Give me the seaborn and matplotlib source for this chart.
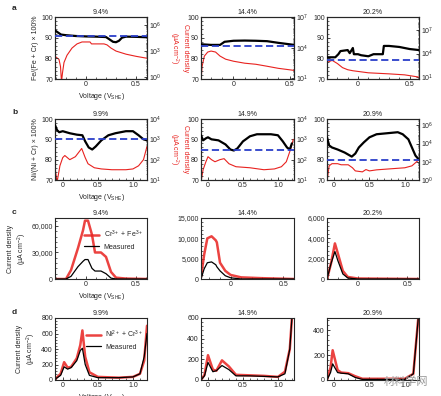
import numpy as np
import pandas as pd
import seaborn as sns
import matplotlib.pyplot as plt
from matplotlib.ticker import AutoMinorLocator, FixedLocator, LogLocator, FuncFormatter

# ---- data ----
titles_a = ['9.4%', '14.4%', '20.2%']
titles_b = ['9.9%', '14.9%', '20.9%']

# row a: Fe/(Fe+Cr) composition (black), dashed bulk level (blue), current density (red, log)
v_a1 = [-0.31, -0.28, -0.25, -0.2, -0.1, 0.0, 0.1, 0.2, 0.24, 0.27, 0.3, 0.33, 0.36, 0.4, 0.5, 0.61]
fe_a1 = [93.5, 92.5, 91.5, 91.2, 90.8, 90.6, 90.5, 90.3, 89.0, 88.0, 87.8, 88.5, 90.0, 90.5, 90.4, 90.2]
vr_a1 = [-0.31, -0.27, -0.255, -0.245, -0.235, -0.22, -0.19, -0.14, -0.09, -0.04, 0.04, 0.055, 0.10,
         0.18, 0.21, 0.25, 0.30, 0.40, 0.50, 0.61]
j_a1 = [2.5e2, 1.1e2, 1.7e1, 0.3, 3.2, 4.9e1, 3.3e2, 2.2e3, 6.6e3, 1.1e4, 1.1e4, 6.6e3, 6.6e3,
        6.6e3, 5.1e3, 2.2e3, 1.0e3, 4.4e2, 2.5e2, 1.5e2]

v_a2 = [-0.29, -0.2, -0.12, -0.08, 0.0, 0.1, 0.2, 0.3, 0.4, 0.5, 0.54]
fe_a2 = [86.8, 86.5, 86.5, 88.0, 88.5, 88.6, 88.5, 88.3, 87.5, 86.8, 86.5]
vr_a2 = [-0.29, -0.28, -0.26, -0.23, -0.2, -0.16, -0.12, -0.07, 0.0, 0.1, 0.2, 0.3, 0.4, 0.54]
j_a2 = [6, 1.6e2, 1.6e3, 4e3, 5e3, 4e3, 1.6e3, 7.9e2, 5e2, 3.2e2, 2.5e2, 1.6e2, 1e2, 6.3e1]

v_a3 = [-0.3, -0.22, -0.19, -0.17, -0.1, -0.08, -0.05, -0.04, 0.0, 0.03, 0.1, 0.15, 0.2, 0.24,
        0.25, 0.3, 0.4, 0.5, 0.59]
fe_a3 = [80.5, 80.5, 82.0, 83.5, 84.0, 82.5, 85.0, 82.0, 82.0, 81.5, 81.0, 82.0, 82.0, 82.0,
         86.0, 86.0, 85.5, 84.5, 84.0]
vr_a3 = [-0.3, -0.25, -0.2, -0.15, -0.1, -0.05, 0.1, 0.3, 0.45, 0.59]
j_a3 = [7.6e2, 1.4e3, 5.6e2, 1.7e2, 9.3e1, 6.9e1, 3.8e1, 2.8e1, 2.1e1, 1.1e1]

# row b: Ni/(Ni+Cr)
v_b1 = [-0.11, -0.08, -0.05, 0.0, 0.1, 0.2, 0.28, 0.32, 0.37, 0.42, 0.47, 0.55, 0.65, 0.75, 0.9,
        1.0, 1.08, 1.15, 1.2]
ni_b1 = [97, 94.5, 93.5, 94, 93, 92.3, 92, 89, 86, 85, 86.5, 89.5, 92, 93, 94, 94, 92, 90, 89.5]
vr_b1 = [-0.11, -0.08, -0.04, 0.0, 0.03, 0.1, 0.18, 0.27, 0.32, 0.36, 0.45, 0.55, 0.7, 0.9, 1.0,
         1.08, 1.15, 1.2]
j_b1 = [40, 8, 50, 126, 160, 100, 140, 355, 126, 63, 40, 35, 32, 32, 35, 50, 100, 450]

v_b2 = [-0.1, -0.07, -0.03, 0.0, 0.05, 0.15, 0.25, 0.32, 0.37, 0.42, 0.5, 0.6, 0.7, 0.9, 1.0,
        1.07, 1.13, 1.17, 1.2]
ni_b2 = [92, 89.5, 90.5, 91, 90, 89.5, 87.5, 85, 84.5, 85.5, 89, 91.5, 92.5, 92.5, 92, 89, 86, 85, 88]
vr_b2 = [-0.1, -0.07, -0.03, 0.0, 0.05, 0.1, 0.17, 0.23, 0.3, 0.4, 0.6, 0.8, 0.95, 1.05, 1.12,
         1.18, 1.22]
j_b2 = [8, 32, 79, 140, 100, 79, 100, 112, 63, 45, 40, 32, 35, 45, 79, 316, 1000]

v_b3 = [-0.1, -0.07, -0.03, 0.05, 0.15, 0.25, 0.3, 0.35, 0.42, 0.5, 0.6, 0.75, 0.9, 0.97, 1.05,
        1.1, 1.15, 1.2]
ni_b3 = [91, 87, 86, 85, 83.5, 81.5, 83, 86, 88.5, 91, 92.5, 93, 93.5, 92.5, 90, 86, 82, 80]
vr_b3 = [-0.1, -0.07, -0.03, 0.05, 0.1, 0.2, 0.26, 0.3, 0.4, 0.45, 0.5, 0.6, 0.8, 1.0, 1.1, 1.2]
j_b3 = [0.6, 36, 62, 62, 47, 47, 22, 10, 7.8, 14, 10, 13, 17, 22, 36, 170]

bulk_a = [90.8, 85.8, 79.0]
bulk_b = [90.0, 85.0, 80.0]

# row c: current density, calculated (red) vs measured (black)
vc1 = [-0.31, -0.2, -0.15, -0.08, -0.03, -0.01, 0.02, 0.06, 0.09, 0.15, 0.2, 0.25, 0.3, 0.4, 0.61]
calc_c1 = [0, 0, 10000, 35000, 55000, 66000, 66000, 50000, 30000, 30000, 25000, 8000, 1500, 500, 0]
meas_c1 = [0, 0, 3000, 14000, 20000, 22000, 22000, 12000, 9000, 9000, 6000, 1000, 0, 0, 0]

vc2 = [-0.28, -0.25, -0.22, -0.18, -0.14, -0.13, -0.1, -0.05, 0.0, 0.1, 0.3, 0.6]
calc_c2 = [500, 6000, 10000, 10500, 9500, 9000, 4000, 2000, 1000, 400, 200, 0]
meas_c2 = [0, 2500, 4000, 4200, 3500, 3000, 2000, 800, 300, 0, 0, 0]

vc3 = [-0.31, -0.27, -0.23, -0.2, -0.15, -0.1, 0.0, 0.62]
calc_c3 = [0, 1500, 3500, 2500, 800, 200, 50, 0]
meas_c3 = [0, 1500, 2700, 1800, 500, 100, 0, 0]

# row d
vd1 = [-0.11, -0.03, 0.02, 0.07, 0.12, 0.2, 0.25, 0.28, 0.32, 0.38, 0.5, 0.8, 1.0, 1.1, 1.16, 1.2]
calc_d1 = [10, 80, 230, 160, 170, 280, 450, 640, 300, 100, 40, 30, 40, 80, 250, 700]
meas_d1 = [10, 60, 170, 140, 160, 250, 380, 410, 200, 60, 30, 30, 40, 80, 300, 600]

vd2 = [-0.1, -0.05, 0.0, 0.07, 0.12, 0.2, 0.3, 0.4, 0.6, 0.8, 1.0, 1.1, 1.17, 1.2]
calc_d2 = [0, 50, 240, 100, 90, 190, 130, 50, 45, 40, 30, 80, 300, 600]
meas_d2 = [0, 40, 170, 80, 90, 140, 100, 40, 40, 35, 30, 60, 300, 600]

vd3 = [-0.1, -0.05, -0.02, 0.05, 0.1, 0.2, 0.3, 0.4, 0.6, 1.0, 1.12, 1.19]
calc_d3 = [0, 100, 240, 80, 60, 55, 30, 10, 10, 10, 50, 500]
meas_d3 = [0, 60, 130, 60, 55, 50, 20, 5, 5, 5, 50, 500]

# ---- layout ----
W, H = 441, 396
sns.set_style('ticks')
plt.rcParams['font.family'] = ['Liberation Sans', 'DejaVu Sans']
plt.rcParams['mathtext.fontset'] = 'custom'
plt.rcParams['mathtext.rm'] = 'Liberation Sans'
plt.rcParams['mathtext.it'] = 'Liberation Sans:italic'
FS = 5

fig = plt.figure(figsize=(W / 100, H / 100), dpi=100)

col_x = [(55, 92), (201, 93), (327, 92)]
row_y = [(17, 79), (119, 180), (218, 279), (318, 380)]


def make_ax(r, c):
    x0, w = col_x[c]
    t, b = row_y[r]
    ax = fig.add_axes([x0 / W, 1 - b / H, w / W, (b - t) / H])
    ax.tick_params(direction='in', labelsize=FS, length=2.5, width=0.6, pad=1.5)
    ax.tick_params(which='minor', direction='in', length=1.3, width=0.5)
    for s in ax.spines.values():
        s.set_linewidth(0.8)
    return ax


def style_x(ax, xlim, ticks, labels):
    ax.set_xlim(*xlim)
    ax.xaxis.set_major_locator(FixedLocator(ticks))
    ax.set_xticklabels(labels)
    ax.xaxis.set_minor_locator(AutoMinorLocator(5))


def pow_fmt(v, pos):
    return r'$10^{%d}$' % round(np.log10(v))


red = '#e8221f'
blue = '#2b3fc9'
sub = 'Voltage (V$_{\\mathrm{SHE}}$)'
cd_label = 'Current density\n(\u00b5A cm$^{-2}$)'

comp_rows = [
    (0, titles_a, [(v_a1, fe_a1, vr_a1, j_a1), (v_a2, fe_a2, vr_a2, j_a2), (v_a3, fe_a3, vr_a3, j_a3)],
     bulk_a, [(-0.31, 0.61), (-0.29, 0.54), (-0.3, 0.59)],
     [(10 ** -0.2, 10 ** 6.9), (10 ** 0.95, 10 ** 7.05), (10 ** 0.8, 10 ** 8.6)],
     [[1e0, 1e3, 1e6], [1e1, 1e4, 1e7], [1e1, 1e4, 1e7]], 'Fe/(Fe + Cr) \u00d7 100%'),
    (1, titles_b, [(v_b1, ni_b1, vr_b1, j_b1), (v_b2, ni_b2, vr_b2, j_b2), (v_b3, ni_b3, vr_b3, j_b3)],
     bulk_b, [(-0.11, 1.2), (-0.1, 1.23), (-0.1, 1.2)],
     [(1e1, 1e4), (1e1, 1e4), (1e0, 10 ** 6.7)],
     [[1e1, 1e2, 1e3, 1e4], [1e1, 1e2, 1e3, 1e4], [1e0, 1e2, 1e4, 1e6]], 'Ni/(Ni + Cr) \u00d7 100%'),
]

for r, titles, series, bulk, xlims, rlims, rticks, ylab in comp_rows:
    for c in range(3):
        v, comp, vr, j = series[c]
        ax = make_ax(r, c)
        axr = ax.twinx()
        axr.set_yscale('log')
        sns.lineplot(x=vr, y=j, ax=axr, color=red, lw=0.8)
        axr.set_ylim(*rlims[c])
        axr.yaxis.set_major_locator(FixedLocator(rticks[c]))
        axr.yaxis.set_major_formatter(FuncFormatter(pow_fmt))
        axr.yaxis.set_minor_locator(LogLocator(subs=np.arange(2, 10), numticks=20))
        axr.tick_params(direction='in', labelsize=FS, length=2.5, width=0.6, pad=1.5)
        axr.tick_params(which='minor', direction='in', length=1.0, width=0.4)
        axr.set_ylabel('')
        sns.lineplot(x=v, y=comp, ax=ax, color='black', lw=1.6, zorder=3)
        ax.axhline(bulk[c], color=blue, lw=1.3, ls=(0, (4, 2)), zorder=4)
        ax.set_ylim(70, 100)
        ax.set_yticks([70, 80, 90, 100])
        ax.yaxis.set_minor_locator(AutoMinorLocator(5))
        if r == 0:
            style_x(ax, xlims[c], [0, 0.5], ['0', '0.5'])
        else:
            style_x(ax, xlims[c], [0, 0.5, 1.0], ['0', '0.5', '1.0'])
        ax.set_title(titles[c], fontsize=FS, pad=2)
        ax.set_xlabel('')
        ax.set_ylabel('')
        ax.set_zorder(axr.get_zorder() + 1)
        ax.patch.set_visible(False)
        if c == 0:
            ax.set_ylabel(ylab, fontsize=FS, labelpad=2)
            ax.set_xlabel(sub, fontsize=FS, labelpad=2)
            axr.set_ylabel(cd_label, fontsize=FS, color=red, rotation=270, labelpad=20)

cur_rows = [
    (2, titles_a, [(vc1, calc_c1, meas_c1), (vc2, calc_c2, meas_c2), (vc3, calc_c3, meas_c3)],
     [(-0.31, 0.61), (-0.28, 0.6), (-0.31, 0.62)],
     [(0, 69000), (0, 15000), (0, 6000)],
     [[0, 30000, 60000], [0, 5000, 10000, 15000], [0, 2000, 4000, 6000]],
     'Cr$^{3+}$ + Fe$^{3+}$'),
    (3, titles_b, [(vd1, calc_d1, meas_d1), (vd2, calc_d2, meas_d2), (vd3, calc_d3, meas_d3)],
     [(-0.11, 1.2), (-0.1, 1.23), (-0.1, 1.2)],
     [(0, 800), (0, 600), (0, 500)],
     [[0, 200, 400, 600, 800], [0, 200, 400, 600], [0, 200, 400]],
     'Ni$^{2+}$ + Cr$^{3+}$'),
]

for r, titles, series, xlims, ylims, yticks, calc_name in cur_rows:
    for c in range(3):
        v, calc, meas = series[c]
        ax = make_ax(r, c)
        df = pd.DataFrame({'V': v, 'calc': calc, 'meas': meas})
        sns.lineplot(data=df, x='V', y='calc', ax=ax, color=red, lw=1.8, alpha=0.85, label=calc_name)
        sns.lineplot(data=df, x='V', y='meas', ax=ax, color='black', lw=0.9, label='Measured')
        ax.set_ylim(*ylims[c])
        ax.yaxis.set_major_locator(FixedLocator(yticks[c]))
        ax.yaxis.set_major_formatter(FuncFormatter(lambda y, p: f'{int(y):,}'))
        ax.yaxis.set_minor_locator(AutoMinorLocator(5))
        if r == 2:
            style_x(ax, xlims[c], [0, 0.5], ['0', '0.5'])
        else:
            style_x(ax, xlims[c], [0, 0.5, 1.0], ['0', '0.5', '1.0'])
        ax.set_title(titles[c], fontsize=FS, pad=2)
        ax.set_xlabel('')
        ax.set_ylabel('')
        if c == 0:
            ax.set_ylabel(cd_label, fontsize=FS, labelpad=2)
            ax.set_xlabel(sub, fontsize=FS, labelpad=2)
            ax.legend(loc='upper right', bbox_to_anchor=(1.0, 0.9), frameon=False, fontsize=FS,
                      handlelength=2.2, handletextpad=0.6, borderaxespad=0.2, labelspacing=0.6)
        else:
            ax.get_legend().remove()

for letter, yy in zip('abcd', [8, 112, 212, 312]):
    fig.text(12 / W, 1 - yy / H, letter, fontsize=6, fontweight='bold', va='center')

fig.text(406 / W, 1 - 382 / H, '材料学网', fontsize=8, color='#9a9a9a', ha='center', va='center',
         family=['Noto Sans CJK SC', 'DejaVu Sans'])

fig.savefig('out.png', dpi=100)
